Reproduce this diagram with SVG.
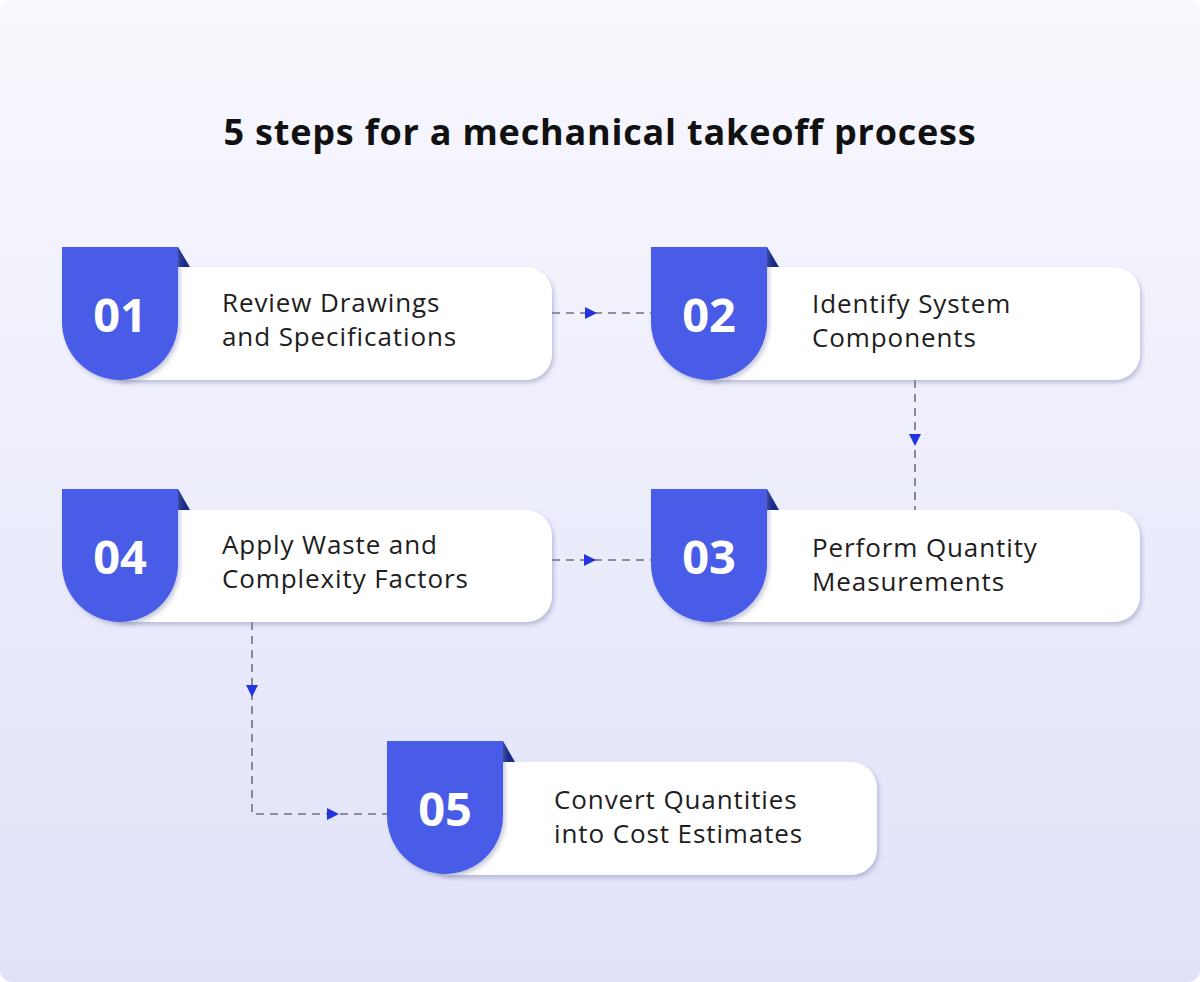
<svg xmlns="http://www.w3.org/2000/svg" width="1200" height="982" viewBox="0 0 1200 982">
<defs>
<linearGradient id="bg" x1="0" y1="0" x2="0" y2="1"><stop offset="0" stop-color="#f9f8fe"/><stop offset="1" stop-color="#e0e2f9"/></linearGradient>
<filter id="sh" x="-10%" y="-10%" width="130%" height="140%"><feDropShadow dx="2" dy="3" stdDeviation="2" flood-color="#8088b0" flood-opacity="0.45"/></filter>
<style>
.card{fill:#fff;filter:url(#sh)}
.badge{fill:#4a5be8;filter:url(#sh)}
.fold{fill:#1a2a8a}
.num{font-family:"Open Sans","Liberation Sans",sans-serif;font-weight:700;font-size:47px;fill:#fff;text-anchor:middle}
.lbl{font-family:"Open Sans","Liberation Sans",sans-serif;font-size:26px;letter-spacing:0.9px;font-weight:500;fill:#1d1d22}
.ln{stroke:#6e7083;stroke-width:1.6;stroke-dasharray:8 6;fill:none}
.ah{fill:#2233e0}
</style>
</defs>
<rect width="1200" height="982" rx="12" fill="url(#bg)"/>
<text x="600" y="145" text-anchor="middle" font-family="'Open Sans','Liberation Sans',sans-serif" font-weight="700" font-size="36" letter-spacing="0.8" fill="#111">5 steps for a mechanical takeoff process</text>
<g id="connectors">
<path class="ln" d="M552,313 H651"/><path class="ah" d="M585,307 L597,313 L585,319Z"/>
<path class="ln" d="M915,380 V510"/><path class="ah" d="M909,434 L915,446 L921,434Z"/>
<path class="ln" d="M552,560 H651"/><path class="ah" d="M584,554 L596,560 L584,566Z"/>
<path class="ln" d="M252,622 V814 H387"/><path class="ah" d="M246,685 L252,697 L258,685Z"/><path class="ah" d="M327,808 L339,814 L327,820Z"/>
</g>
<g id="n1"><rect class="card" x="100" y="267" width="452" height="113" rx="26"/><path class="fold" d="M178,247 L190,267 L178,267Z"/><path class="badge" d="M62,247 H178 V322 A58,58 0 0 1 62,322Z"/><text class="num" x="120" y="332">01</text><text class="lbl" x="222" y="312">Review Drawings</text><text class="lbl" x="222" y="346">and Specifications</text></g>
<g id="n2"><rect class="card" x="689" y="267" width="451" height="113" rx="26"/><path class="fold" d="M767,247 L779,267 L767,267Z"/><path class="badge" d="M651,247 H767 V322 A58,58 0 0 1 651,322Z"/><text class="num" x="709" y="332">02</text><text class="lbl" x="812" y="313">Identify System</text><text class="lbl" x="812" y="347">Components</text></g>
<g id="n3"><rect class="card" x="689" y="510" width="451" height="112" rx="26"/><path class="fold" d="M767,489 L779,510 L767,510Z"/><path class="badge" d="M651,489 H767 V564 A58,58 0 0 1 651,564Z"/><text class="num" x="709" y="574">03</text><text class="lbl" x="812" y="557">Perform Quantity</text><text class="lbl" x="812" y="591">Measurements</text></g>
<g id="n4"><rect class="card" x="100" y="510" width="452" height="112" rx="26"/><path class="fold" d="M178,489 L190,510 L178,510Z"/><path class="badge" d="M62,489 H178 V564 A58,58 0 0 1 62,564Z"/><text class="num" x="120" y="574">04</text><text class="lbl" x="222" y="554">Apply Waste and</text><text class="lbl" x="222" y="588">Complexity Factors</text></g>
<g id="n5"><rect class="card" x="425" y="762" width="452" height="113" rx="26"/><path class="fold" d="M503,741 L515,762 L503,762Z"/><path class="badge" d="M387,741 H503 V816 A58,58 0 0 1 387,816Z"/><text class="num" x="445" y="826">05</text><text class="lbl" x="554" y="809">Convert Quantities</text><text class="lbl" x="554" y="843">into Cost Estimates</text></g>
</svg>
